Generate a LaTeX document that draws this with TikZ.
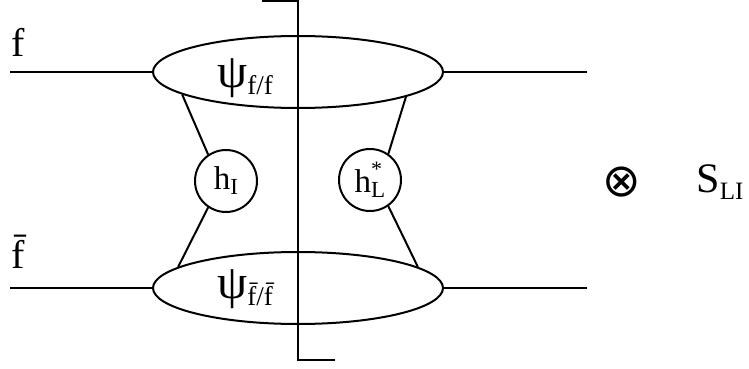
\documentclass[tikz,border=0pt]{standalone}
\usepackage{fontspec}
\setmainfont{Liberation Serif}
\newfontfamily\symfont{DejaVu Sans}
\usepackage{tikz}
\usetikzlibrary{shapes.geometric}
\newcommand\lowsub[2][24]{\raisebox{-0.15em}{\fontsize{#1}{#1}\selectfont #2}}
\tikzstyle{blob} = [draw=black, line width=2pt, ellipse, inner sep=0,
    minimum width=290pt, minimum height=72pt]
\tikzstyle{vertex} = [draw=black, line width=2pt, circle, inner sep=0,
    minimum size=62pt, font=\fontsize{33}{33}\selectfont]
\tikzstyle{leg} = [line width=2pt]
\tikzstyle{biglabel} = [inner sep=0, font=\fontsize{40}{40}\selectfont]

\begin{document}
\begin{tikzpicture}[x=1pt,y=-1pt]
\useasboundingbox (0,0) rectangle (749,369);
\node [blob] (up) at (298,72) {};
\node [blob] (down) at (298,288) {};
\node [vertex] (hI) at (226,181) {h\lowsub[23]{I}};
\node [vertex] (hL) at (370,180) {h\rlap{\raisebox{0.5em}{\fontsize{22}{22}\selectfont *}}\lowsub[23]{L}};
\coordinate (fin) at (10,72);
\coordinate (fout) at (587,72);
\coordinate (fbin) at (10,288);
\coordinate (fbout) at (587,288);
\coordinate (cuttop) at (262,1.5);
\coordinate (cutbot) at (335,360);
\draw [leg] (fin) -- (up.west);
\draw [leg] (up.east) -- (fout);
\draw [leg] (fbin) -- (down.west);
\draw [leg] (down.east) -- (fbout);
\draw [leg] (up.191) -- (hI.124);
\draw [leg] (hI.236) -- (down.170);
\draw [leg] (up.347) -- (hL.55);
\draw [leg] (hL.305) -- (down.10);
\draw [leg] (cuttop) -| (up.center) -- (down.center) |- (cutbot);
\node [biglabel] (f) at (18,42) {f};
\node [biglabel] (fb) at (18,252) {\={f}};
\node [biglabel] (psiup) at (245,78) {\fontsize{48}{48}\selectfont ψ\lowsub[27]{f/f}};
\node [biglabel] (psidown) at (245,289) {\fontsize{48}{48}\selectfont ψ\lowsub[27]{\={f}/\={f}}};
\node [biglabel] (times) at (622,182) {\symfont\fontsize{46}{46}\selectfont ⊗};
\node [biglabel] (slabel) at (720,182) {\fontsize{42}{42}\selectfont S\lowsub[25]{LI}};
\end{tikzpicture}
\end{document}
